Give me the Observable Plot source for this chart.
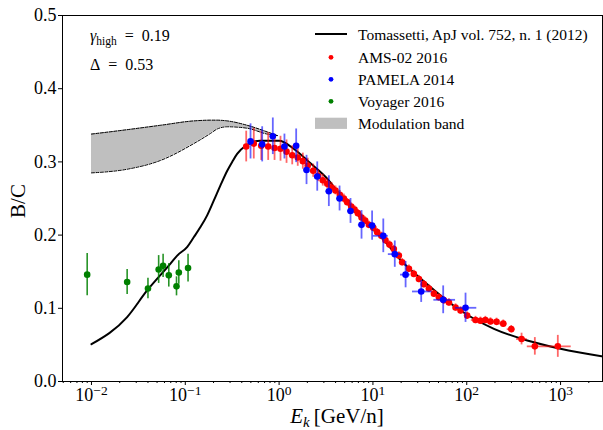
<!DOCTYPE html>
<html>
<head>
<meta charset="utf-8">
<script src="https://cdn.jsdelivr.net/npm/d3@7"></script>
<script src="https://cdn.jsdelivr.net/npm/@observablehq/plot@0.6"></script>
<style>
  html, body { margin: 0; padding: 0; background: white; }
</style>
</head>
<body>
<div id="chart"></div>
<script>
// ---- Model curve (Tomassetti 2012) ----
const modelE = [0.01, 0.024, 0.039, 0.0695, 0.082, 0.105, 0.123, 0.145, 0.171, 0.201, 0.237, 0.28, 0.316, 0.357, 0.44, 0.63, 1.0, 1.43, 2.16, 3.26, 4.52, 6.2, 8.7, 13.1, 19.7, 37.9, 85.9, 195, 442, 1000, 2871];
const modelV = [0.051, 0.088, 0.124, 0.161, 0.172, 0.184, 0.197, 0.211, 0.227, 0.247, 0.268, 0.288, 0.300, 0.311, 0.322, 0.329, 0.329, 0.318, 0.298, 0.277, 0.254, 0.234, 0.215, 0.193, 0.166, 0.133, 0.097, 0.072, 0.056, 0.0447, 0.034];

// ---- Modulation band ----
const bandE  = [0.01, 0.024, 0.0544, 0.123, 0.186, 0.219, 0.28, 0.457, 0.747, 0.96];
const bandHi = [0.338, 0.344, 0.350, 0.356, 0.357, 0.357, 0.356, 0.350, 0.341, 0.336];
const bandLo = [0.285, 0.290, 0.302, 0.325, 0.339, 0.345, 0.348, 0.346, 0.338, 0.336];

// ---- AMS-02 2016 ----
const amsE = [0.446, 0.537, 0.645, 0.765, 0.894, 1.035, 1.20, 1.38, 1.58, 1.79, 2.02, 2.31, 2.61, 2.92, 3.26, 3.62, 3.99, 4.44, 4.90, 5.32, 5.87, 6.37, 6.91, 7.56, 8.27, 9.06, 10.1, 11.1, 12.3, 13.6, 15.0, 16.7, 18.9, 20.5, 24.2, 27.3, 30.9, 34.9, 39.5, 44.7, 50.5, 57.1, 64.6, 76, 85.9, 101, 124, 140, 158, 179, 208, 245, 298, 384, 532, 935];
const amsV = [0.321, 0.325, 0.322, 0.321, 0.319, 0.318, 0.314, 0.309, 0.306, 0.301, 0.295, 0.288, 0.281, 0.275, 0.270, 0.265, 0.261, 0.255, 0.250, 0.245, 0.239, 0.235, 0.230, 0.224, 0.220, 0.214, 0.210, 0.204, 0.199, 0.193, 0.187, 0.181, 0.172, 0.163, 0.154, 0.147, 0.140, 0.133, 0.127, 0.120, 0.115, 0.111, 0.108, 0.101, 0.097, 0.090, 0.084, 0.083, 0.084, 0.082, 0.0815, 0.079, 0.0715, 0.058, 0.048, 0.048];
const amsErr = [0.021, 0.021, 0.020, 0.019, 0.017, 0.017, 0.016, 0.013, 0.012, 0.011, 0.010, 0.009, 0.008, 0.008, 0.007, 0.007, 0.006, 0.006, 0.006, 0.005, 0.005, 0.005, 0.005, 0.005, 0.005, 0.005, 0.005, 0.005, 0.005, 0.005, 0.005, 0.005, 0.005, 0.005, 0.005, 0.005, 0.005, 0.005, 0.005, 0.005, 0.005, 0.005, 0.005, 0.005, 0.005, 0.005, 0.005, 0.005, 0.005, 0.005, 0.005, 0.005, 0.005, 0.008, 0.012, 0.015];
// energy bins for the highest AMS points (horizontal bars)
const amsBinE  = [124, 140, 158, 179, 208, 245, 298, 384, 532, 935];
const amsBinLo = [112, 132, 149, 168, 193, 222, 270, 340, 442, 721];
const amsBinHi = [132, 149, 168, 193, 222, 270, 330, 442, 721, 1300];

// ---- PAMELA 2014 ----
const pamE = [0.496, 0.66, 0.857, 1.14, 1.52, 1.96, 2.55, 3.39, 4.41, 5.77, 7.56, 9.8, 12.9, 17.1, 22.3, 32.7, 56.1, 97.1];
const pamV = [0.328, 0.324, 0.335, 0.321, 0.322, 0.289, 0.280, 0.260, 0.250, 0.233, 0.214, 0.213, 0.199, 0.174, 0.146, 0.123, 0.1116, 0.1007];
const pamErr = [0.024, 0.024, 0.025, 0.017, 0.023, 0.020, 0.020, 0.021, 0.017, 0.017, 0.0195, 0.020, 0.023, 0.018, 0.018, 0.015, 0.019, 0.020];
const pamLo = [0.47, 0.62, 0.80, 1.07, 1.43, 1.83, 2.38, 3.16, 4.10, 5.36, 7.0, 8.9, 10.1, 14.6, 19.7, 26.4, 44.6, 76];
const pamHi = [0.53, 0.70, 0.91, 1.21, 1.62, 2.10, 2.73, 3.64, 4.75, 6.22, 8.1, 10.7, 14.6, 19.7, 25.0, 42.7, 76, 128];

// ---- Voyager 2016 ----
const voyE = [0.0090, 0.024, 0.040, 0.052, 0.058, 0.0667, 0.0806, 0.0853, 0.107];
const voyV = [0.146, 0.136, 0.127, 0.153, 0.158, 0.145, 0.130, 0.149, 0.155];
const voyErr = [0.029, 0.017, 0.014, 0.019, 0.016, 0.016, 0.013, 0.016, 0.019];

// ---- Axis ticks ----
const majorTicks = [0.01, 0.1, 1, 10, 100, 1000];
const minorTicks = [];
for (const dec of [0.001, 0.01, 0.1, 1, 10, 100, 1000]) for (const m of [2,3,4,5,6,7,8,9]) minorTicks.push(dec * m);
const yTicks = [0, 0.1, 0.2, 0.3, 0.4, 0.5];

// ---- tables ----
const model = modelE.map((E, i) => ({E, v: modelV[i]}));
const band = bandE.map((E, i) => ({E, hi: bandHi[i], lo: bandLo[i]}));
const ams = amsE.map((E, i) => ({E, v: amsV[i], e: amsErr[i]}));
const amsBins = amsBinE.map((E, i) => ({v: amsV[amsE.indexOf(E)], lo: amsBinLo[i], hi: amsBinHi[i]}));
const pam = pamE.map((E, i) => ({E, v: pamV[i], e: pamErr[i], lo: pamLo[i], hi: pamHi[i]}));
const voy = voyE.map((E, i) => ({E, v: voyV[i], e: voyErr[i]}));

const FONT = "Liberation Serif";

const chart = Plot.plot({
  width: 603,
  height: 430,
  marginLeft: 62,
  marginRight: 1,
  marginTop: 15,
  marginBottom: 49,
  style: {fontFamily: FONT, fontSize: "17px", background: "white", color: "black"},
  x: {type: "log", domain: [0.00491, 2800]},
  y: {domain: [0, 0.5]},
  marks: [
    // band
    Plot.areaY(band, {x: "E", y1: "lo", y2: "hi", fill: "#bfbfbf", curve: "monotone-x"}),
    Plot.line(band, {x: "E", y: "hi", stroke: "black", strokeWidth: 1, strokeDasharray: "3,1.5", curve: "monotone-x"}),
    Plot.line(band, {x: "E", y: "lo", stroke: "black", strokeWidth: 1, strokeDasharray: "3,1.5", curve: "monotone-x"}),
    // model
    Plot.line(model, {x: "E", y: "v", stroke: "black", strokeWidth: 2, curve: "monotone-x"}),
    // Voyager
    Plot.ruleX(voy, {x: "E", y1: d => d.v - d.e, y2: d => d.v + d.e, stroke: "#008000", strokeWidth: 1.6, strokeOpacity: 0.85}),
    Plot.dot(voy, {x: "E", y: "v", r: 3.3, fill: "#008000"}),
    // AMS-02
    Plot.ruleX(ams, {x: "E", y1: d => d.v - d.e, y2: d => d.v + d.e, stroke: "#ff0000", strokeWidth: 1.8, strokeOpacity: 0.6}),
    Plot.ruleY(amsBins, {y: "v", x1: "lo", x2: "hi", stroke: "#ff0000", strokeWidth: 1.8, strokeOpacity: 0.6}),
    Plot.dot(ams, {x: "E", y: "v", r: 3.3, fill: "#ff0000"}),
    // PAMELA
    Plot.ruleX(pam, {x: "E", y1: d => d.v - d.e, y2: d => d.v + d.e, stroke: "#0000ff", strokeWidth: 1.8, strokeOpacity: 0.6}),
    Plot.ruleY(pam, {y: "v", x1: "lo", x2: "hi", stroke: "#0000ff", strokeWidth: 1.8, strokeOpacity: 0.6}),
    Plot.dot(pam, {x: "E", y: "v", r: 3.3, fill: "#0000ff"}),
    // axes
    Plot.axisX(minorTicks.filter(t => t >= 0.00491 && t <= 2800), {tickSize: 2, tickFormat: () => "", label: null}),
    Plot.axisX(majorTicks, {tickSize: 4, tickPadding: 3, tickFormat: d => String(Math.round(Math.log10(d))), label: null, fontSize: 18}),
    Plot.axisY(yTicks, {tickSize: 4, tickPadding: 2, tickFormat: d3.format(".1f"), label: null, fontSize: 18}),
    Plot.frame({stroke: "black", strokeWidth: 1})
  ]
});

document.getElementById("chart").appendChild(chart);
const svg = d3.select(chart);

// superscript exponents on x tick labels
svg.selectAll('g[aria-label="x-axis tick label"] text').each(function() {
  const t = this.textContent;
  if (!t) return;
  const sel = d3.select(this);
  sel.text("");
  sel.append("tspan").text("10");
  sel.append("tspan").attr("dy", "-0.45em").attr("font-size", "0.75em").text(t.replace("-", "\u2212"));
});

// overlay group for labels (explicit start anchoring)
const ov = svg.append("g").attr("text-anchor", "start").attr("font-family", FONT).attr("fill", "black");

// axis labels
const xl = ov.append("text")
  .attr("x", 337).attr("y", 423).attr("text-anchor", "middle")
  .attr("font-size", 21);
xl.append("tspan").attr("font-style", "italic").text("E");
xl.append("tspan").attr("font-style", "italic").attr("font-size", 15).attr("dy", 4).text("k");
xl.append("tspan").attr("dy", -4).text("\u2009[GeV/n]");

ov.append("text")
  .attr("transform", "translate(25,201) rotate(-90)")
  .attr("text-anchor", "middle")
  .attr("font-size", 21)
  .text("B/C");

// annotations
const g1 = ov.append("text").attr("x", 90).attr("y", 41).attr("font-size", 16);
g1.append("tspan").attr("font-style", "italic").text("\u03b3");
g1.append("tspan").attr("font-size", 11.5).attr("dy", 3.5).text("high");
g1.append("tspan").attr("dy", -3.5).text("\u2002=\u20020.19");

ov.append("text").attr("x", 90).attr("y", 69.5).attr("font-size", 16)
  .text("\u0394\u2002=\u20020.53");

// legend
const leg = ov.append("g").attr("font-size", 15.5);
const rows = [
  {y: 34, label: "Tomassetti, ApJ vol. 752, n. 1 (2012)", kind: "line"},
  {y: 57.3, label: "AMS-02 2016", kind: "dot", color: "#ff0000"},
  {y: 79.3, label: "PAMELA 2014", kind: "dot", color: "#0000ff"},
  {y: 101.3, label: "Voyager 2016", kind: "dot", color: "#008000"},
  {y: 123.3, label: "Modulation band", kind: "patch"}
];
for (const r of rows) {
  if (r.kind === "line") leg.append("line").attr("x1", 315).attr("x2", 347).attr("y1", r.y).attr("y2", r.y).attr("stroke", "black").attr("stroke-width", 2);
  if (r.kind === "dot") leg.append("circle").attr("cx", 331).attr("cy", r.y).attr("r", 2.4).attr("fill", r.color);
  if (r.kind === "patch") leg.append("rect").attr("x", 315).attr("y", r.y - 5.6).attr("width", 32).attr("height", 11.2).attr("fill", "#bfbfbf");
  leg.append("text").attr("x", 358).attr("y", r.y + 6).attr("text-anchor", "start").text(r.label);
}
</script>
</body>
</html>
